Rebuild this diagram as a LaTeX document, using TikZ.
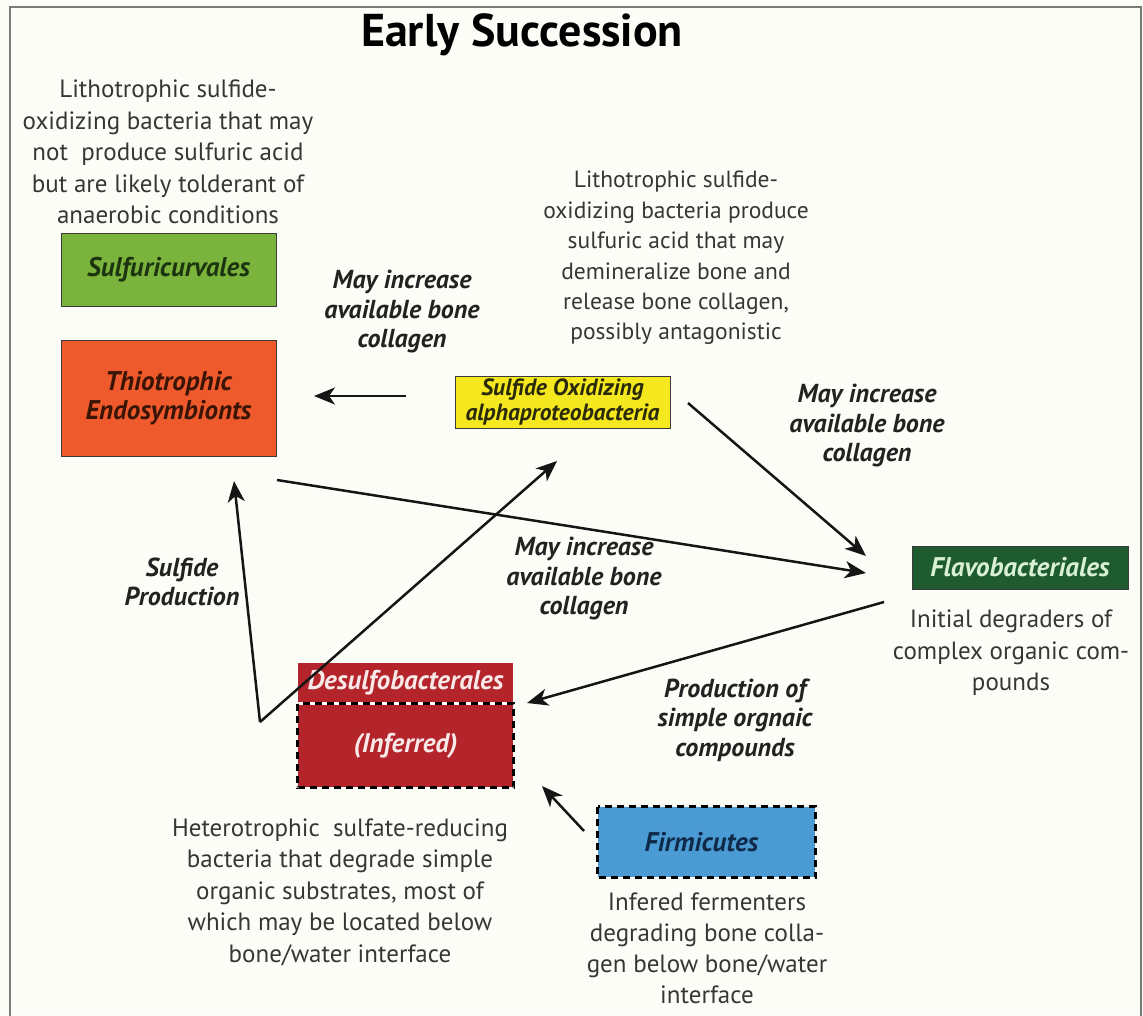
\documentclass[tikz,border=0pt]{standalone}
\usepackage{fontspec}
\setmainfont{PT Sans}
\usetikzlibrary{arrows.meta}
\definecolor{bgcol}{HTML}{FDFDF8}
\definecolor{framecol}{HTML}{7A7A76}
\definecolor{desccol}{HTML}{363636}
\definecolor{labcol}{HTML}{222222}
\definecolor{arrcol}{HTML}{151515}
\definecolor{boxline}{HTML}{3A3A3A}
\definecolor{sulfcol}{HTML}{7AB43C}
\definecolor{sulftext}{HTML}{1C3510}
\definecolor{thiocol}{HTML}{EE5A2C}
\definecolor{thiotext}{HTML}{3A1405}
\definecolor{alphacol}{HTML}{F5E81E}
\definecolor{alphatext}{HTML}{2A2A0A}
\definecolor{flavocol}{HTML}{1E5C30}
\definecolor{flavotext}{HTML}{D9F0D4}
\definecolor{desulfcol}{HTML}{B3252B}
\definecolor{desulftext}{HTML}{F8E8E8}
\definecolor{firmcol}{HTML}{4A9AD4}
\definecolor{firmtext}{HTML}{102A4A}
\begin{document}
\begin{tikzpicture}[x=1pt,y=-1pt,
  desc/.style={align=center, text=desccol, inner sep=0pt, font=\fontsize{25}{31.5}\selectfont},
  lab/.style={align=center, text=labcol, inner sep=0pt, font=\fontsize{26}{29.5}\selectfont\bfseries\itshape},
  boxnode/.style={draw=boxline, line width=1pt, inner sep=0pt, align=center, font=\fontsize{27}{29}\selectfont\bfseries\itshape},
  arr/.style={draw=arrcol, line width=2.5pt, -{Stealth[length=21pt,width=17pt,inset=6pt]}},
  dashbox/.style={draw=black, line width=2.5pt, dash pattern=on 7pt off 5pt}
]
\fill[bgcol] (0,0) rectangle (1143,1015);
\useasboundingbox (0,0) rectangle (1143,1015);
\draw[framecol, line width=2.5pt] (10,1016) -- (10,7) -- (1141,7) -- (1141,1016);

% title
\node[inner sep=0pt, text=black, font=\fontsize{46}{48}\selectfont\bfseries] (title) at (522,35) {Early Succession};

% descriptions
\node[desc] (d1) at (168,152) {Lithotrophic sulfide-\\oxidizing bacteria that may\\not\ \ produce sulfuric acid\\but are likely tolderant of\\anaerobic conditions};
\node[desc, font=\fontsize{23.5}{30.4}\selectfont] (d2) at (676,258) {Lithotrophic sulfide-\\oxidizing bacteria produce\\sulfuric acid that may\\demineralize bone and\\release bone collagen,\\possibly antagonistic};
\node[desc] (d3) at (1011,653) {Initial degraders of\\complex organic com-\\pounds};
\node[desc] (d4) at (340,892) {Heterotrophic\ \ sulfate-reducing\\bacteria that degrade simple\\organic substrates, most of\\which may be located below\\bone/water interface};
\node[desc, font=\fontsize{25}{31}\selectfont] (d5) at (707,948) {Infered fermenters\\degrading bone colla-\\gen below bone/water\\interface};

% boxes
\node[boxnode, fill=sulfcol, text=sulftext, minimum width=215pt, minimum height=73pt] (sulf) at (168.5,269.5) {Sulfuricurvales};
\node[boxnode, fill=thiocol, text=thiotext, minimum width=215pt, minimum height=116pt] (thio) at (168.5,398) {Thiotrophic\\Endosymbionts};
\node[boxnode, fill=alphacol, text=alphatext, minimum width=215pt, minimum height=52pt, font=\fontsize{23.5}{25}\selectfont\bfseries\itshape] (alpha) at (562.5,402) {Sulfide Oxidizing\\alphaproteobacteria};
\node[boxnode, fill=flavocol, text=flavotext, minimum width=216pt, minimum height=43pt] (flavo) at (1020,567.5) {Flavobacteriales};
\node[boxnode, draw=none, fill=desulfcol, text=desulftext, minimum width=215pt, minimum height=41pt] (desulf) at (405.5,683) {Desulfobacterales};
\node[boxnode, draw=none, fill=desulfcol, text=desulftext, minimum width=215pt, minimum height=83pt] (inf) at (405.5,745.5) {(Inferred)};
\draw[white, line width=2.5pt] (inf.north west) -- (inf.north east);
\draw[dashbox] (inf.north west) rectangle (inf.south east);
\node[boxnode, draw=none, fill=firmcol, text=firmtext, minimum width=217pt, minimum height=70pt] (firm) at (706.5,842) {\hspace*{-10pt}Firmicutes};
\draw[dashbox] (firm.north west) rectangle (firm.south east);

% arrow labels
\node[lab] (l1) at (402,312) {May increase\\available bone\\collagen};
\node[lab] (l2) at (867,426) {May increase\\available bone\\collagen};
\node[lab] (l3) at (584,579) {May increase\\available bone\\collagen};
\node[lab] (l4) at (182,582) {Sulfide\\Production};
\node[lab] (l5) at (735,720) {Production of\\simple orgnaic\\compounds};

% connector end points
\coordinate (v) at (260,722);
\coordinate (a1s) at (406,396);
\coordinate (a1e) at (314,396);
\coordinate (a2e) at (234,481);
\coordinate (a3e) at (557,461);
\coordinate (a4s) at (688,403);
\coordinate (a4e) at (866,556);
\coordinate (a5s) at (277,480);
\coordinate (a5e) at (866,573);
\coordinate (a6s) at (884,602);
\coordinate (a6e) at (527,703);
\coordinate (a7s) at (584,831);
\coordinate (a7e) at (542,786);

% connectors
\draw[arr] (a1s) -- (a1e);
\draw[arr] (v) -- (a2e);
\draw[arr] (v) -- (a3e);
\draw[arr] (a4s) -- (a4e);
\draw[arr] (a5s) -- (a5e);
\draw[arr] (a6s) -- (a6e);
\draw[arr] (a7s) -- (a7e);
\end{tikzpicture}
\end{document}
